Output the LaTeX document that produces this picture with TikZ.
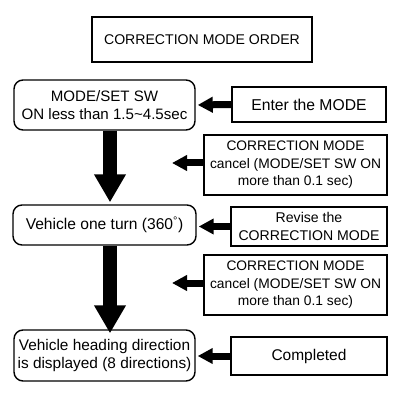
\documentclass[tikz,border=0pt]{standalone}
\usepackage{fontspec}
\setmainfont{Liberation Sans}
\usetikzlibrary{arrows.meta}
\begin{document}
\begin{tikzpicture}[x=1pt,y=-1pt,
  every node/.style={align=center, inner sep=0pt},
  fs/.style={font=\fontsize{#1}{17.5}\selectfont},
  sqbox/.style={draw, line width=1.4pt},
  rbox/.style={draw, line width=1.4pt, rounded corners=9pt},
  darrow/.style={line width=14pt, -{Triangle[length=28pt,width=30pt]}, shorten >=2pt},
  larrow/.style={line width=7pt, -{Triangle[length=15pt,width=15pt]}, shorten >=2pt}]
\useasboundingbox (0,0) rectangle (402,403);
\node[sqbox, fs=14.1, minimum width=220pt, minimum height=45pt] (title) at (202,39.5) {CORRECTION MODE ORDER};
\node[rbox, fs=15.1, minimum width=181pt, minimum height=50pt] (box1) at (104.5,105) {MODE/SET SW\\ON less than 1.5\textasciitilde4.5sec};
\node[sqbox, fs=15.7, minimum width=154pt, minimum height=35pt] (enter) at (309,104.5) {Enter the MODE};
\node[sqbox, fs=13.8, minimum width=183pt, minimum height=60pt] (cancel1) at (295.5,165) {CORRECTION MODE\\cancel (MODE/SET SW ON\\more than 0.1 sec)};
\node[rbox, fs=15.6, minimum width=183pt, minimum height=40pt] (box2) at (104.5,225) {Vehicle one turn (360\textsuperscript{°})};
\node[sqbox, fs=14.1, minimum width=156pt, minimum height=39pt] (revise) at (309,226.5) {Revise the\\CORRECTION MODE};
\node[sqbox, fs=13.8, minimum width=183pt, minimum height=60pt] (cancel2) at (295.5,285) {CORRECTION MODE\\cancel (MODE/SET SW ON\\more than 0.1 sec)};
\node[rbox, fs=15.4, minimum width=181pt, minimum height=51pt] (box3) at (104.5,355.5) {Vehicle heading direction\\is displayed (8 directions)};
\node[sqbox, fs=15.5, minimum width=156pt, minimum height=38pt] (done) at (309,356) {Completed};
\coordinate (xa) at (110,0);
\coordinate (t1) at (170,163);
\coordinate (t2) at (170,283);
\draw[darrow] (box1.south -| xa) -- (box2.north -| xa);
\draw[darrow] (box2.south -| xa) -- ([yshift=-6pt]box3.north -| xa);
\draw[larrow] (enter.west) -- (box1.east);
\draw[larrow] (cancel1.west |- t1) -- (t1);
\draw[larrow] (revise.west) -- (box2.east |- revise.west);
\draw[larrow] (cancel2.west |- t2) -- (t2);
\draw[larrow] (done.west) -- (box3.east |- done.west);
\end{tikzpicture}
\end{document}
